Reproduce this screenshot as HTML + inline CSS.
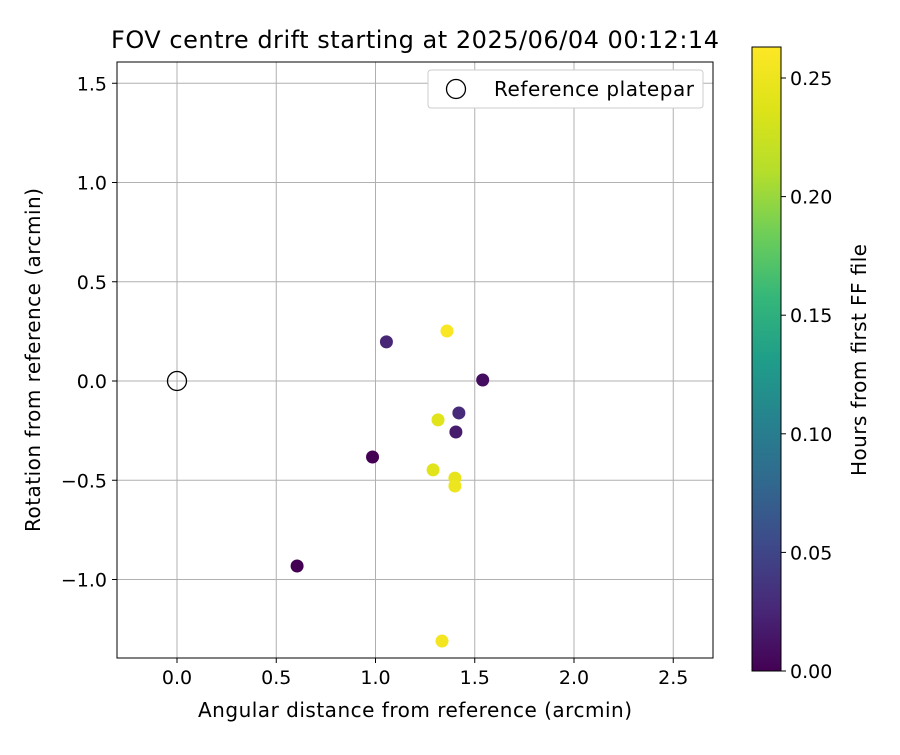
<!DOCTYPE html>
<html><head><meta charset="utf-8"><style>
body{margin:0;background:#fff;font-family:"Liberation Sans","DejaVu Sans",sans-serif;}
svg text{font-family:"DejaVu Sans","Liberation Sans",sans-serif;fill:#000;}
</style></head><body>
<svg id="chart" width="900" height="750">
<defs><linearGradient id="vir" x1="0" y1="1" x2="0" y2="0">
<stop offset="0" stop-color="#440154"/><stop offset="0.1" stop-color="#482878"/><stop offset="0.2" stop-color="#3e4989"/><stop offset="0.3" stop-color="#31688e"/><stop offset="0.4" stop-color="#26828e"/><stop offset="0.5" stop-color="#1f9e89"/><stop offset="0.6" stop-color="#35b779"/><stop offset="0.7" stop-color="#6ece58"/><stop offset="0.8" stop-color="#b5de2b"/><stop offset="0.9" stop-color="#dde318"/><stop offset="1" stop-color="#fde725"/>
</linearGradient></defs>
<text x="415" y="48" font-size="24" text-anchor="middle" textLength="608">FOV centre drift starting at 2025/06/04 00:12:14</text>
<g id="grid"></g><g id="points"></g>
<rect x="117" y="62" width="596" height="596" fill="none" stroke="#000"/>
<g>
<rect x="428" y="70" width="275" height="38" fill="#fff" stroke="#ccc" rx="3"/>
<circle cx="456" cy="89" r="9.5" fill="none" stroke="#000" stroke-width="1.3"/>
<text x="494" y="96" font-size="20" textLength="200">Reference platepar</text>
</g>
<text x="415" y="717" font-size="20" text-anchor="middle" textLength="434">Angular distance from reference (arcmin)</text>
<text transform="translate(40,360) rotate(-90)" font-size="20" text-anchor="middle" textLength="344">Rotation from reference (arcmin)</text>
<rect x="752" y="47" width="29" height="624" fill="url(#vir)" stroke="#000"/>
<g id="cbticks"></g>
<text transform="translate(866,360) rotate(-90)" font-size="20" text-anchor="middle" textLength="232">Hours from first FF file</text>
</svg>
<script>
const xs=[0.605,0.985,1.055,1.36,1.54,1.42,1.405,1.315,1.29,1.40,1.40,1.335];
const ys=[-0.932,-0.383,0.197,0.252,0.005,-0.161,-0.257,-0.196,-0.448,-0.489,-0.529,-1.31];
const hrs=[0.0,0.0,0.025,0.26,0.008,0.028,0.018,0.24,0.24,0.245,0.25,0.255];
const xTicks=[0,0.5,1,1.5,2,2.5];
const yTicks=[-1,-0.5,0,0.5,1,1.5];
const cTicks=[0,0.05,0.1,0.15,0.2,0.25];
const X=v=>177+v*198.5, Y=v=>381-v*198.5, C=v=>671-v*2372;
const NS='http://www.w3.org/2000/svg';
function mk(t,a,p){const e=document.createElementNS(NS,t);for(const k in a)e.setAttribute(k,a[k]);p.appendChild(e);return e;}
const vir=[[68,1,84],[72,40,120],[62,73,137],[49,104,142],[38,130,142],[31,158,137],[53,183,121],[110,206,88],[181,222,43],[221,227,24],[253,231,37]];
function col(v){let t=Math.max(0,Math.min(1,v/0.263))*10;let i=Math.min(9,Math.floor(t)),f=t-i;const a=vir[i],b=vir[i+1];return 'rgb('+a.map((c,k)=>Math.round(c+(b[k]-c)*f)).join(',')+')';}
const g=document.getElementById('grid');
xTicks.forEach(v=>{const l=mk('line',{x1:X(v),x2:X(v),y1:62,y2:658,stroke:'#b0b0b0','stroke-width':1},g);

mk('line',{x1:X(v),x2:X(v),y1:658,y2:663,stroke:'#000'},g);
const t=mk('text',{x:X(v),y:684,'font-size':19,'text-anchor':'middle'},g);t.textContent=v.toFixed(1);
});
yTicks.forEach(v=>{const l=mk('line',{x1:117,x2:713,y1:Y(v),y2:Y(v),stroke:'#b0b0b0','stroke-width':1},g);

mk('line',{x1:112,x2:117,y1:Y(v),y2:Y(v),stroke:'#000'},g);
const t=mk('text',{x:107,y:Y(v)+7,'font-size':19,'text-anchor':'end'},g);t.textContent=v.toFixed(1).replace('-','\u2212');
});
const p=document.getElementById('points');
const r=mk('circle',{cx:X(0),cy:Y(0),r:9.5,fill:'none',stroke:'#000','stroke-width':1.3},p);

xs.forEach((x,i)=>{const c=mk('circle',{cx:X(x),cy:Y(ys[i]),r:6.5,fill:col(hrs[i])},p);
});
const cb=document.getElementById('cbticks');
cTicks.forEach(v=>{mk('line',{x1:781,x2:786,y1:C(v),y2:C(v),stroke:'#000'},cb);
const t=mk('text',{x:790,y:C(v)+7,'font-size':19},cb);t.textContent=v.toFixed(2);
});
</script>
</body></html>
